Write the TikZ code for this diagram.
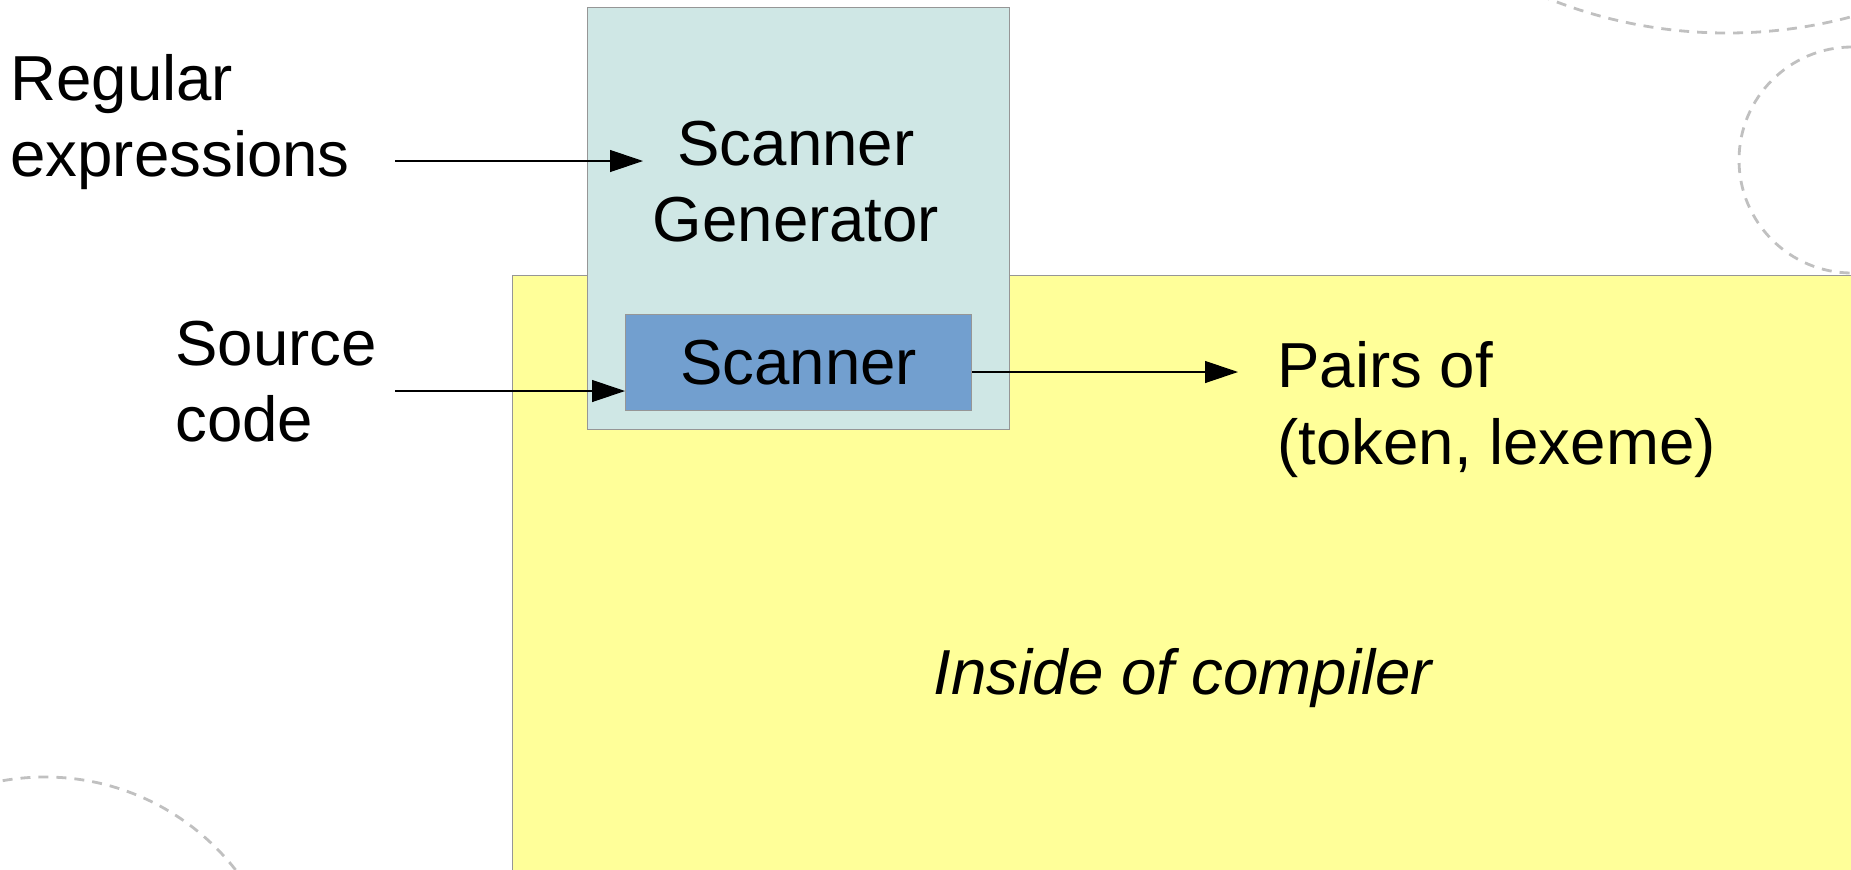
\documentclass[tikz,border=0pt]{standalone}
\usepackage{fontspec}
\setmainfont{Liberation Sans}
\usetikzlibrary{arrows.meta}
\definecolor{gentea}{RGB}{207,231,229}
\definecolor{compyellow}{RGB}{255,255,153}
\definecolor{scanblue}{RGB}{114,159,207}
\definecolor{boxgray}{RGB}{150,150,150}
\definecolor{decogray}{RGB}{192,192,192}
\begin{document}
\begin{tikzpicture}[x=0.5pt,y=-0.5pt,
  box/.style={draw=boxgray, line width=0.5pt, inner sep=0pt, anchor=north west},
  lbl/.style={font=\fontsize{31.8pt}{38.3pt}\selectfont, inner sep=0pt, text=black},
  conn/.style={draw=black, line width=0.6pt, -{Triangle[length=16.5pt,width=11pt]}},
  deco/.style={draw=decogray, line width=1.4pt, dash pattern=on 5pt off 4pt}]
\useasboundingbox (0,0) rectangle (1851,869);
\clip (0,0) rectangle (1851,869);
% decorative dashed circles
\draw[deco] (1727,-447) circle[radius=480];
\draw[deco] (1852,160) circle[radius=113];
\draw[deco] (45,1019) circle[radius=242];
% boxes
\node[box, fill=compyellow, minimum width=679pt, minimum height=302.5pt] (compiler) at (512,275) {};
\node[box, fill=gentea, minimum width=211pt, minimum height=211pt] (generator) at (587,7) {};
\node[box, fill=scanblue, minimum width=173pt, minimum height=48pt, font=\fontsize{31.8pt}{38.3pt}\selectfont] (scanner) at (625,314) {Scanner};
% texts (base anchor = baseline of the last line)
\node[lbl, anchor=base west, align=left] (regex) at (10,176.7) {Regular\\expressions};
\node[lbl, anchor=base, align=center] (gentext) at (796,241.7) {Scanner\\Generator};
\node[lbl, anchor=base west, align=left] (source) at (175,441.7) {Source\\code};
\node[lbl, anchor=base west, align=left] (pairs) at (1277,464.5) {Pairs of\\(token, lexeme)};
\node[lbl, anchor=base, font=\fontsize{31.8pt}{38.3pt}\selectfont\itshape] (inside) at (1183,694) {Inside of compiler};
% connectors
\coordinate (regexout) at (395,161);
\coordinate (genin) at (643,161);
\draw[conn] (regexout) -- (genin);
\coordinate (srcout) at (395,391);
\draw[conn] (srcout) -- (srcout -| scanner.west);
\coordinate (pairsin) at (1238,372);
\draw[conn] (pairsin -| scanner.east) -- (pairsin);
\end{tikzpicture}
\end{document}
